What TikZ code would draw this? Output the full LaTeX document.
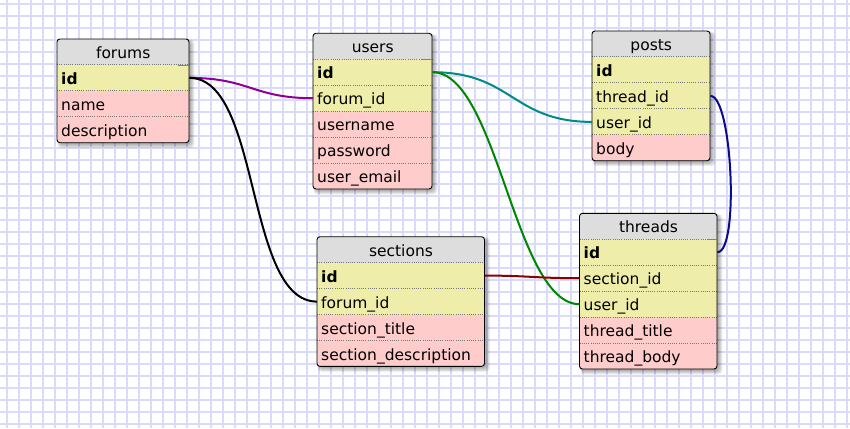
\documentclass[tikz,border=0pt]{standalone}
\usepackage{fontspec}
\setmainfont{DejaVu Sans}
\definecolor{ergridc}{RGB}{218,218,250}
\definecolor{erhdr}{RGB}{221,221,221}
\definecolor{eryel}{RGB}{238,238,170}
\definecolor{erpink}{RGB}{255,204,204}
\definecolor{erpurple}{RGB}{140,0,150}
\definecolor{erteal}{RGB}{0,139,139}
\definecolor{ergreen}{RGB}{0,135,0}
\definecolor{erred}{RGB}{139,0,0}
\definecolor{ernavy}{RGB}{10,10,140}
\newcommand\erfont{\fontsize{15.5}{18}\selectfont}
\tikzset{
  ergrid/.style={draw=ergridc, line width=1.1pt},
  ercell/.style={anchor=north west, inner xsep=4pt, inner ysep=0pt,
    text width=\ercw pt, minimum height=26pt, text height=15pt, text depth=2pt,
    align=left, font=\erfont},
  erhead/.style={ercell, fill=erhdr, align=center, minimum height=25.7pt},
  erkey/.style={ercell, fill=eryel},
  erfk/.style={ercell, fill=eryel},
  erfield/.style={ercell, fill=erpink},
  erdot/.style={draw={rgb,255:red,120;green,120;blue,120}, line width=0.8pt, dash pattern=on 1pt off 1.2pt},
  erkeymark/.style={draw={rgb,255:red,130;green,130;blue,130}, line width=1pt},
  erborder/.style={draw=black, line width=0.9pt, rounded corners=3pt},
  erlink/.style={line width=2pt},
}
% #1 name, #2 x, #3 y, #4 width, #5 title, #6 number of rows, #7 rows
\newcommand\ertable[7]{%
  \pgfmathsetmacro\erh{25.7+#6*26}%
  \pgfmathsetmacro\ercw{#4-8}%
  \foreach \k in {0,...,5}{%
    \fill[black, opacity=0.06, rounded corners=4pt]
      (#2+2-\k*0.3,#3+2-\k*0.3) rectangle (#2+#4+1.5+\k*0.8,#3+\erh+1.5+\k*0.8);
  }
  \begin{scope}
    \clip[rounded corners=3pt] (#2,#3) rectangle ++(#4,\erh);
    \node[erhead] (#1-0) at (#2,#3) {#5};
    \foreach \t/\s [count=\i] in {#7}{%
      \node[\s] (#1-\i) at (#2,#3+25.7+\i*26-26) {\t};
    }
  \end{scope}
  \foreach \i in {1,...,#6}{%
    \draw[erdot] (#1-\i.north west) -- (#1-\i.north east);
  }
  \draw[erborder] (#2,#3) rectangle ++(#4,\erh);
}
\begin{document}
\begin{tikzpicture}[x=1pt,y=-1pt]
\useasboundingbox (0,0) rectangle (850,428);
\fill[white] (0,0) rectangle (850,428);
\foreach \gx in {7,19,...,847} \draw[ergrid] (\gx,0) -- (\gx,428);
\foreach \gy in {4,16,...,424} \draw[ergrid] (0,\gy) -- (850,\gy);

\ertable{forums}{57}{39}{132}{forums}{3}{\textbf{id}/erkey, name/erfield, description/erfield}
\ertable{users}{313}{33.3}{119}{users}{5}{\textbf{id}/erkey, forum\_id/erfk, username/erfield, password/erfield, user\_email/erfield}
\ertable{posts}{592}{31}{118}{posts}{4}{\textbf{id}/erkey, thread\_id/erfk, user\_id/erfk, body/erfield}
\ertable{sections}{317}{236.7}{167.5}{sections}{4}{\textbf{id}/erkey, forum\_id/erfk, section\_title/erfield, section\_description/erfield}
\ertable{threads}{579.5}{213.3}{137.5}{threads}{5}{\textbf{id}/erkey, section\_id/erfk, user\_id/erfk, thread\_title/erfield, thread\_body/erfield}

\draw[erkeymark] ([xshift=-11pt]forums-0.south east) -- (forums-0.south east);
\draw[erkeymark] ([xshift=-10pt]users-0.south east) -- (users-0.south east);
\draw[erkeymark] ([xshift=-10pt]threads-0.south east) -- (threads-0.south east);

\draw[erlink, erpurple] (forums-1.east) .. controls +(60,0) and +(-60,0) .. (users-2.west);
\draw[erlink, black] (forums-1.east) .. controls +(72,0) and +(-72,0) .. (sections-2.west);
\draw[erlink, erteal] (users-1.east) .. controls +(80,0) and +(-80,0) .. (posts-3.west);
\draw[erlink, ergreen] (users-1.east) .. controls +(65,0) and +(-65,0) .. (threads-3.west);
\draw[erlink, erred] (sections-1.east) .. controls +(45,0) and +(-45,0) .. (threads-2.west);
\draw[erlink, ernavy] (posts-2.east) .. controls +(22,0) and +(22,0) .. (threads-1.east);
\end{tikzpicture}
\end{document}
